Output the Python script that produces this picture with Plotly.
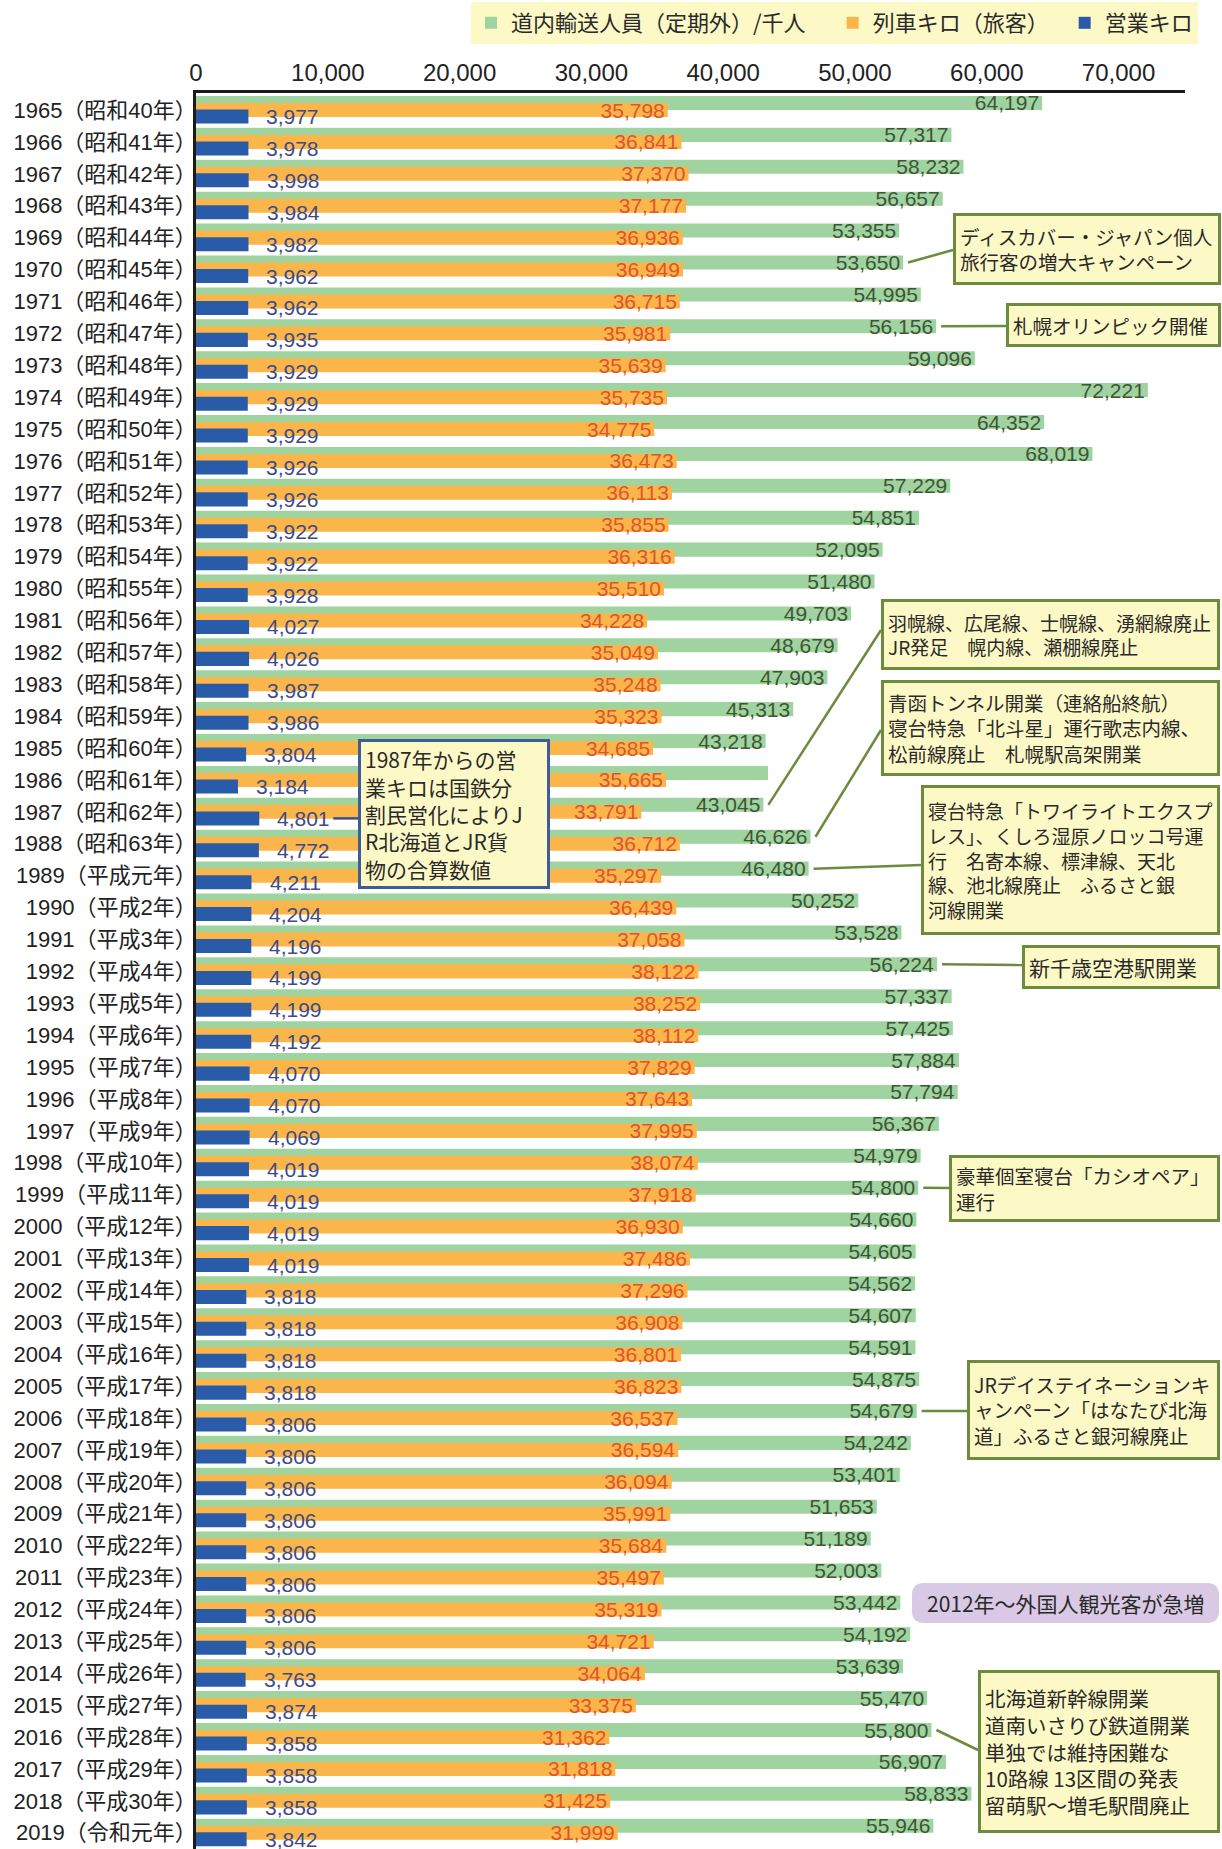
import plotly.graph_objects as go

categories = [
    "1965（昭和40年）", "1966（昭和41年）", "1967（昭和42年）", "1968（昭和43年）", "1969（昭和44年）",
    "1970（昭和45年）", "1971（昭和46年）", "1972（昭和47年）", "1973（昭和48年）", "1974（昭和49年）",
    "1975（昭和50年）", "1976（昭和51年）", "1977（昭和52年）", "1978（昭和53年）", "1979（昭和54年）",
    "1980（昭和55年）", "1981（昭和56年）", "1982（昭和57年）", "1983（昭和58年）", "1984（昭和59年）",
    "1985（昭和60年）", "1986（昭和61年）", "1987（昭和62年）", "1988（昭和63年）", "1989（平成元年）",
    "1990（平成2年）", "1991（平成3年）", "1992（平成4年）", "1993（平成5年）", "1994（平成6年）",
    "1995（平成7年）", "1996（平成8年）", "1997（平成9年）", "1998（平成10年）", "1999（平成11年）",
    "2000（平成12年）", "2001（平成13年）", "2002（平成14年）", "2003（平成15年）", "2004（平成16年）",
    "2005（平成17年）", "2006（平成18年）", "2007（平成19年）", "2008（平成20年）", "2009（平成21年）",
    "2010（平成22年）", "2011（平成23年）", "2012（平成24年）", "2013（平成25年）", "2014（平成26年）",
    "2015（平成27年）", "2016（平成28年）", "2017（平成29年）", "2018（平成30年）", "2019（令和元年）",
]

# 道内輸送人員（定期外）/千人
passengers = [
    64197, 57317, 58232, 56657, 53355, 53650, 54995, 56156, 59096, 72221,
    64352, 68019, 57229, 54851, 52095, 51480, 49703, 48679, 47903, 45313,
    43218, 43400, 43045, 46626, 46480, 50252, 53528, 56224, 57337, 57425,
    57884, 57794, 56367, 54979, 54800, 54660, 54605, 54562, 54607, 54591,
    54875, 54679, 54242, 53401, 51653, 51189, 52003, 53442, 54192, 53639,
    55470, 55800, 56907, 58833, 55946,
]
# 1986 value has no printed label in the source
passenger_label_shown = [True] * 55
passenger_label_shown[21] = False

# 列車キロ（旅客）
train_km = [
    35798, 36841, 37370, 37177, 36936, 36949, 36715, 35981, 35639, 35735,
    34775, 36473, 36113, 35855, 36316, 35510, 34228, 35049, 35248, 35323,
    34685, 35665, 33791, 36712, 35297, 36439, 37058, 38122, 38252, 38112,
    37829, 37643, 37995, 38074, 37918, 36930, 37486, 37296, 36908, 36801,
    36823, 36537, 36594, 36094, 35991, 35684, 35497, 35319, 34721, 34064,
    33375, 31362, 31818, 31425, 31999,
]

# 営業キロ
route_km = [
    3977, 3978, 3998, 3984, 3982, 3962, 3962, 3935, 3929, 3929,
    3929, 3926, 3926, 3922, 3922, 3928, 4027, 4026, 3987, 3986,
    3804, 3184, 4801, 4772, 4211, 4204, 4196, 4199, 4199, 4192,
    4070, 4070, 4069, 4019, 4019, 4019, 4019, 3818, 3818, 3818,
    3818, 3806, 3806, 3806, 3806, 3806, 3806, 3806, 3806, 3763,
    3874, 3858, 3858, 3858, 3842,
]

x_ticks = [0, 10000, 20000, 30000, 40000, 50000, 60000, 70000]

series_names = ["道内輸送人員（定期外）/千人", "列車キロ（旅客）", "営業キロ"]

# ---------------- layout constants ----------------
W, H = 1222, 1849
ML, MR, MT, MB = 196, 37, 93, 0
PLOT_W = W - ML - MR
PLOT_H = H - MT - MB
X_MAX = 75040
Y_TOP, Y_BOT = -0.533, 54.51

def px_to_x(px):
    return (px - ML) / PLOT_W * X_MAX

def px_to_row(py):
    return Y_TOP + (py - MT) / PLOT_H * (Y_BOT - Y_TOP)

def px_len_x(n):
    return n / PLOT_W * X_MAX

def paper_x(px):
    return (px - ML) / PLOT_W

def paper_y(py):
    return (H - MB - py) / PLOT_H

GREEN, ORANGE, BLUE = "#9fd3a0", "#fbb64b", "#2a5ba8"
GREEN_T, ORANGE_T, BLUE_T = "#3d5634", "#e0542a", "#3d4a88"
BOX_BG = "#fdf9c6"
OLIVE = "#6b8c3c"
TXT = "#2a2a2a"
NUM_FONT = "Liberation Sans, Noto Sans CJK JP"
JP_FONT = "Noto Sans CJK JP, Liberation Sans"
LEGEND_PAD = "\u3000"  # trailing ideographic space widens the legend entry

rows = list(range(len(categories)))
BAR_W = 0.44

fig = go.Figure()

fig.add_trace(go.Bar(
    name=series_names[0] + LEGEND_PAD, orientation="h", y=rows, x=passengers,
    width=BAR_W, offset=-0.44, marker=dict(color=GREEN, line=dict(width=0)),
    text=[f"{v:,}" if s else "" for v, s in zip(passengers, passenger_label_shown)],
    textposition="inside", insidetextanchor="end", textangle=0, constraintext="none",
    textfont=dict(family=NUM_FONT, size=21, color=GREEN_T), cliponaxis=False,
    hoverinfo="skip",
))
fig.add_trace(go.Bar(
    name=series_names[1] + LEGEND_PAD, orientation="h", y=rows, x=train_km,
    width=BAR_W, offset=-0.22, marker=dict(color=ORANGE, line=dict(width=0)),
    text=[f"{v:,}" for v in train_km],
    textposition="inside", insidetextanchor="end", textangle=0, constraintext="none",
    textfont=dict(family=NUM_FONT, size=21, color=ORANGE_T), cliponaxis=False,
    hoverinfo="skip",
))
fig.add_trace(go.Bar(
    name=series_names[2], orientation="h", y=rows, x=route_km,
    width=BAR_W, offset=-0.015, marker=dict(color=BLUE, line=dict(width=0)),
    hoverinfo="skip",
))

annotations = []
shapes = []

# blue value labels (to the right of the blue bars)
for i, v in enumerate(route_km):
    annotations.append(dict(
        x=v, y=i + 0.205, xref="x", yref="y", xanchor="left", yanchor="middle",
        xshift=16, text=f"{v:,}", showarrow=False,
        font=dict(family=NUM_FONT, size=21, color=BLUE_T),
    ))

# callout boxes: (row of the year, text, box left px, box centre px, inner w, inner h, font size, line end y px)
callouts = [
    (5, "ディスカバー・ジャパン個人<br>旅行客の増大キャンペーン", 953, 249, 254, 58, 19.5, 250),
    (7, "札幌オリンピック開催", 1006, 325, 201, 30, 19.5, 326),
    (22, "羽幌線、広尾線、士幌線、湧網線廃止<br>JR発足　幌内線、瀬棚線廃止", 881, 634.5, 325, 57, 19, 630),
    (23, "青函トンネル開業（連絡船終航）<br>寝台特急「北斗星」運行歌志内線、<br>松前線廃止　札幌駅高架開業", 881, 728, 325, 82, 19.5, 730),
    (24, "寝台特急「トワイライトエクスプ<br>レス」、くしろ湿原ノロッコ号運<br>行　名寄本線、標津線、天北<br>線、池北線廃止　ふるさと銀<br>河線開業", 921, 860, 285, 136, 19, 865),
    (27, "新千歳空港駅開業", 1022, 967, 184, 30, 21, 965),
    (34, "豪華個室寝台「カシオペア」<br>運行", 949, 1188.5, 257, 53, 19.5, 1188),
    (41, "JRデイステイネーションキ<br>ャンペーン「はなたび北海<br>道」ふるさと銀河線廃止", 967, 1410, 239, 86, 19.5, 1411),
    (51, "北海道新幹線開業<br>道南いさりび鉄道開業<br>単独では維持困難な<br>10路線 13区間の発表<br>留萌駅～増毛駅間廃止", 978, 1751.5, 228, 149, 20.5, 1750),
]

for row, text, left, cy, w, h, fs, ly in callouts:
    shapes.append(dict(
        type="line", xref="x", yref="y",
        x0=passengers[row] + px_len_x(5), y0=row - 0.22,
        x1=px_to_x(left), y1=px_to_row(ly),
        line=dict(color=OLIVE, width=2.5), layer="above",
    ))
    annotations.append(dict(
        x=paper_x(left), y=paper_y(cy), xref="paper", yref="paper",
        xanchor="left", yanchor="middle", text=text, showarrow=False,
        align="left", valign="middle", width=w, height=h,
        bgcolor=BOX_BG, bordercolor=OLIVE, borderwidth=3, borderpad=4,
        font=dict(family=JP_FONT, size=fs, color=TXT),
    ))

# JR merger note (blue)
note_row = 22
shapes.append(dict(
    type="line", xref="x", yref="y",
    x0=route_km[note_row] + px_len_x(74), y0=note_row + 0.205,
    x1=px_to_x(358), y1=note_row + 0.205,
    line=dict(color="#3b4f8e", width=2.5), layer="above",
))
annotations.append(dict(
    x=paper_x(358), y=paper_y(814), xref="paper", yref="paper",
    xanchor="left", yanchor="middle",
    text="1987年からの営<br>業キロは国鉄分<br>割民営化によりJ<br>R北海道とJR貨<br>物の合算数値",
    showarrow=False, align="left", valign="middle", width=178, height=136,
    bgcolor=BOX_BG, bordercolor="#3d5c98", borderwidth=3, borderpad=4,
    font=dict(family=JP_FONT, size=21, color=TXT),
))

# purple rounded note
pl, pr, pt, pb, rr = 912, 1219, 1583, 1623, 12
x0, x1 = paper_x(pl), paper_x(pr)
y0, y1 = paper_y(pt), paper_y(pb)
rx, ry = rr / PLOT_W, rr / PLOT_H
path = (f"M{x0+rx},{y0} L{x1-rx},{y0} Q{x1},{y0} {x1},{y0-ry} "
        f"L{x1},{y1+ry} Q{x1},{y1} {x1-rx},{y1} L{x0+rx},{y1} "
        f"Q{x0},{y1} {x0},{y1+ry} L{x0},{y0-ry} Q{x0},{y0} {x0+rx},{y0} Z")
shapes.append(dict(type="path", xref="paper", yref="paper", path=path,
                   fillcolor="#d9c9e4", line=dict(width=0), layer="above"))
annotations.append(dict(
    x=paper_x((pl + pr) / 2), y=paper_y((pt + pb) / 2), xref="paper", yref="paper",
    xanchor="center", yanchor="middle", text="2012年～外国人観光客が急増",
    showarrow=False, font=dict(family=JP_FONT, size=21, color=TXT),
))

fig.update_layout(
    width=W, height=H,
    margin=dict(l=ML, r=MR, t=MT, b=MB, pad=0),
    paper_bgcolor="white", plot_bgcolor="white",
    barmode="overlay",
    showlegend=True,
    legend=dict(
        orientation="h", xref="container", yref="container",
        x=471 / W, y=1 - 2 / H, xanchor="left", yanchor="top",
        bgcolor=BOX_BG, borderwidth=0,
        font=dict(family=JP_FONT, size=22, color=TXT),
        traceorder="normal", itemclick=False, itemdoubleclick=False,
    ),
    xaxis=dict(
        side="top", range=[0, X_MAX], tickvals=x_ticks,
        ticktext=[f"{v:,}" for v in x_ticks], ticks="",
        showgrid=False, zeroline=False, showline=True,
        linecolor="#1a1a1a", linewidth=2.5,
        tickfont=dict(family=NUM_FONT, size=24, color="#222"),
        ticklabelstandoff=0, fixedrange=True,
    ),
    yaxis=dict(
        range=[Y_BOT, Y_TOP], tickvals=rows, ticktext=categories, ticks="",
        showgrid=False, zeroline=False, showline=True,
        linecolor="#1a1a1a", linewidth=2.5,
        tickfont=dict(family=NUM_FONT, size=22, color="#222"),
        ticklabelstandoff=-8, fixedrange=True,
    ),
    annotations=annotations,
    shapes=shapes,
)

fig.write_html("out.html")
